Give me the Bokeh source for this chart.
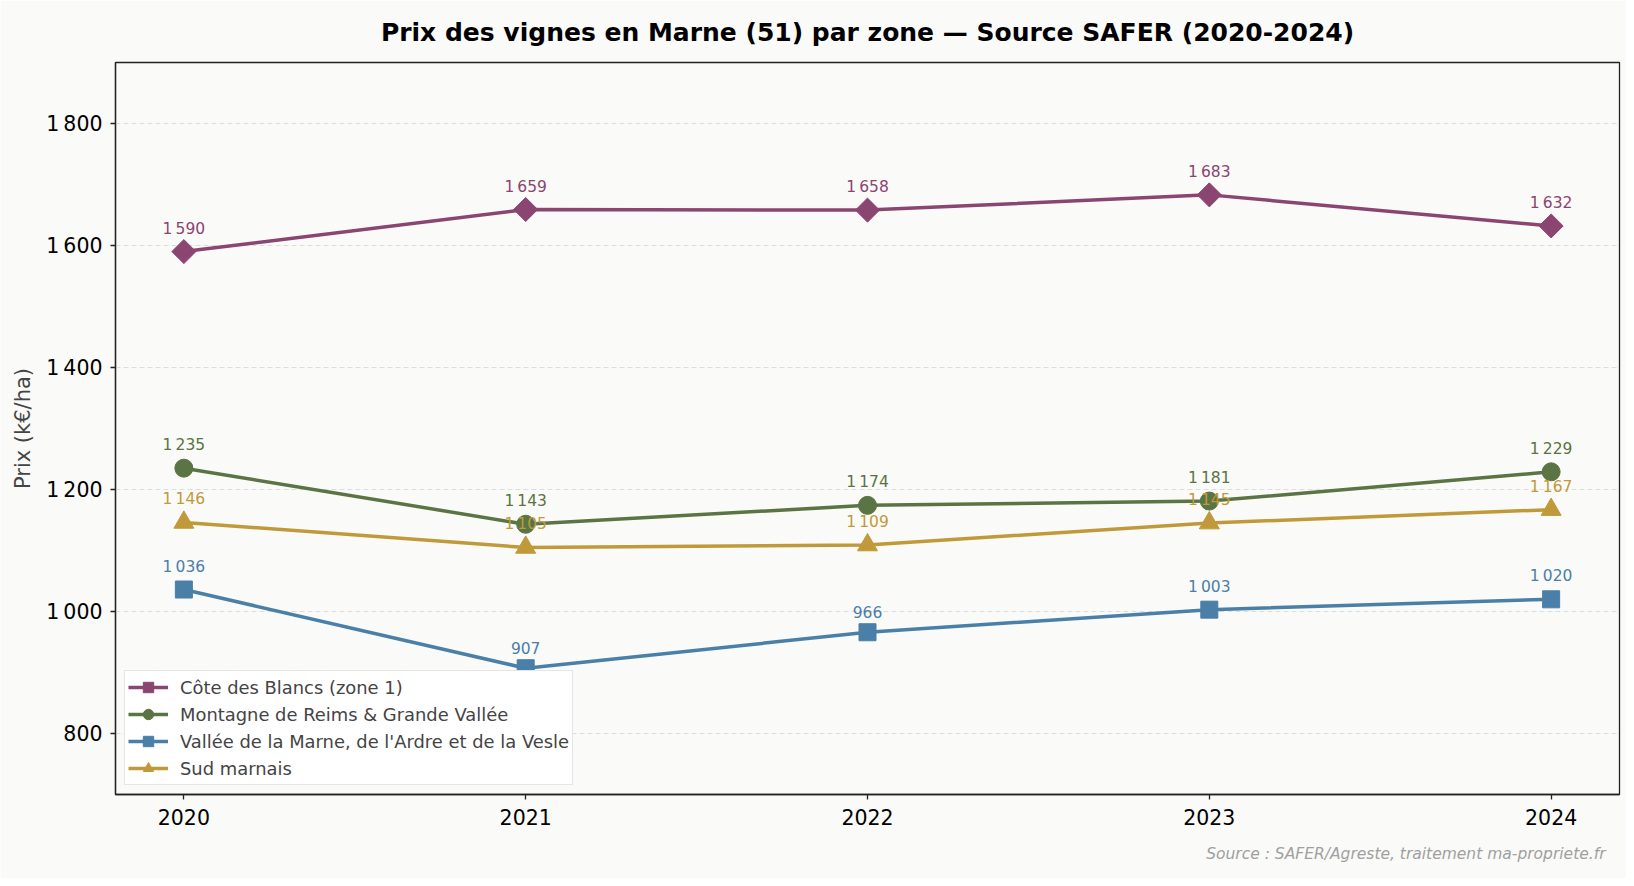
from bokeh.plotting import figure
from bokeh.models import Range1d, FixedTicker, Title, Legend
from bokeh.core.properties import value
from bokeh.embed import file_html
from bokeh.resources import INLINE
import numpy as np

# data
years = [2020, 2021, 2022, 2023, 2024]
cote_blancs = [1590, 1659, 1658, 1683, 1632]
montagne_reims = [1235, 1143, 1174, 1181, 1229]
vallee_marne = [1036, 907, 966, 1003, 1020]
sud_marnais = [1146, 1105, 1109, 1145, 1167]
y_ticks = [800, 1000, 1200, 1400, 1600, 1800]

FONT = "DejaVu Sans"
BG = "#FAFAF8"


def fr(n):
    # french thousands separator
    return f"{n:,}".replace(",", "\u202f")


p = figure(width=1626, height=878, output_backend="svg", toolbar_location=None,
           x_range=Range1d(2019.8, 2024.2), y_range=Range1d(700, 1900),
           background_fill_color=BG, border_fill_color=BG,
           min_border_left=115, min_border_right=7, min_border_top=62, min_border_bottom=84)

p.title.text = "Prix des vignes en Marne (51) par zone \u2014 Source SAFER (2020-2024)"
p.title.align = "center"
p.title.text_font = FONT
p.title.text_font_size = "25px"
p.title.text_font_style = "bold"
p.title.text_color = "black"
p.title.text_line_height = 1.0
p.title.standoff = 31

p.add_layout(Title(text="Source : SAFER/Agreste, traitement ma-propriete.fr", align="right",
                   text_font=FONT, text_font_size="15.5px", text_font_style="italic",
                   text_color="#A0A0A0", text_line_height=1.0, standoff=30, offset=14), "below")

p.outline_line_color = "#222222"
p.outline_line_width = 1.3

p.xgrid.visible = False
p.ygrid.grid_line_color = "#DDDDDD"
p.ygrid.grid_line_dash = "5 3"
p.ygrid.grid_line_width = 1

p.xaxis.ticker = FixedTicker(ticks=years)
p.yaxis.ticker = FixedTicker(ticks=y_ticks)
p.yaxis.major_label_overrides = {t: fr(t) for t in y_ticks}
p.yaxis.axis_label = "Prix (k\u20ac/ha)"
p.yaxis.axis_label_text_font = FONT
p.yaxis.axis_label_text_font_size = "21px"
p.yaxis.axis_label_text_font_style = "normal"
p.yaxis.axis_label_standoff = 8

for ax in (p.xaxis, p.yaxis):
    ax.axis_line_color = "#222222"
    ax.axis_line_width = 1.3
    ax.major_tick_line_color = "#222222"
    ax.major_tick_line_width = 1.3
    ax.major_tick_out = 5
    ax.major_tick_in = 0
    ax.minor_tick_line_color = None
    ax.major_label_text_font = FONT
    ax.major_label_text_font_size = "20.5px"
    ax.major_label_text_color = "black"
p.xaxis.major_label_standoff = 9
p.yaxis.major_label_standoff = 8

series = [
    ("C\u00f4te des Blancs (zone 1)", cote_blancs, "#8B4571", "square", np.pi / 4, 17),
    ("Montagne de Reims & Grande Vall\u00e9e", montagne_reims, "#5A7443", "circle", 0, 18),
    ("Vall\u00e9e de la Marne, de l'Ardre et de la Vesle", vallee_marne, "#4A7FA8", "square", 0, 17),
    ("Sud marnais", sud_marnais, "#C09A3A", "triangle", 0, 20),
]

items = []
for name, vals, color, marker, angle, size in series:
    ln = p.line(years, vals, line_color=color, line_width=3.5)
    sc = p.scatter(years, vals, marker=marker, angle=angle, size=size,
                   fill_color=color, line_color=color)
    p.text(years, vals, text=[fr(v) for v in vals], text_align="center",
           text_baseline="bottom", y_offset=-14, text_font=value(FONT),
           text_font_size="15.5px", text_color=color)
    items.append((name, [ln, sc]))

legend = Legend(items=items, location="bottom_left", margin=9,
                label_text_font=FONT, label_text_font_size="17.9px",
                glyph_width=40, glyph_height=26, spacing=1, padding=3,
                label_standoff=12, border_line_color="#CCCCCC", border_line_width=1.2,
                background_fill_color="white", background_fill_alpha=1.0)
p.add_layout(legend, "center")

open("out.html", "w").write(file_html(p, INLINE))
